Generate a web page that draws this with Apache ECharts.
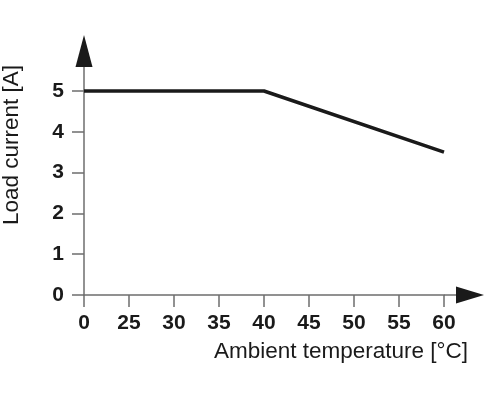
<!DOCTYPE html>
<html>
<head>
<meta charset="utf-8">
<script src="https://cdn.jsdelivr.net/npm/echarts@6/dist/echarts.min.js"></script>
<style>html,body{margin:0;padding:0;background:#fff;}#c{width:486px;height:400px;}</style>
</head>
<body>
<div id="c"></div>
<script>
// Data
var categories = ['0', '25', '30', '35', '40', '45', '50', '55', '60'];
var loadCurrent = [5, null, null, null, 5, null, null, null, 3.5];
var yTicks = [0, 1, 2, 3, 4, 5];
var xTitle = 'Ambient temperature [°C]';
var yTitle = 'Load current [A]';

var G = {left: 84, right: 42, top: 66.5, bottom: 105};
var W = 486, H = 400;
var axisColor = '#6e6e6e';
var ink = '#1a1a1a';
var fontFam = '"Liberation Sans", Arial, sans-serif';

var chart = echarts.init(document.getElementById('c'), null, {renderer: 'canvas'});
var x0 = G.left, y0 = H - G.bottom, xEnd = W - G.right, yTop = G.top;

chart.setOption({
  animation: false,
  backgroundColor: '#fff',
  grid: {left: G.left, right: G.right, top: G.top, bottom: G.bottom, containLabel: false},
  xAxis: {
    type: 'category', data: categories, boundaryGap: false,
    axisLine: {lineStyle: {color: axisColor, width: 1.5}},
    axisTick: {length: 12, lineStyle: {color: axisColor, width: 1.5}, alignWithLabel: true},
    axisLabel: {margin: 17.5, color: ink, fontSize: 21, fontWeight: 'bold', fontFamily: fontFam, interval: 0},
    splitLine: {show: false}
  },
  yAxis: {
    type: 'value', min: 0, max: 5.6,
    axisLine: {show: true, lineStyle: {color: axisColor, width: 1.5}},
    axisTick: {show: true, length: 12, customValues: yTicks, lineStyle: {color: axisColor, width: 1.5}},
    axisLabel: {margin: 20, color: ink, fontSize: 21, fontWeight: 'bold', fontFamily: fontFam, customValues: yTicks},
    splitLine: {show: false}
  },
  series: [{
    type: 'line', data: loadCurrent, connectNulls: true, symbol: 'none',
    lineStyle: {color: ink, width: 3.5}
  }],
  graphic: [
    {type: 'line', shape: {x1: xEnd, y1: y0, x2: xEnd + 14, y2: y0}, style: {stroke: axisColor, lineWidth: 1.5}},
    {type: 'polygon', shape: {points: [[x0, 35], [x0 - 8.5, yTop + 0.5], [x0 + 8.5, yTop + 0.5]]}, style: {fill: ink}, z: 10},
    {type: 'polygon', shape: {points: [[484, y0], [456, y0 - 8.5], [456, y0 + 8.5]]}, style: {fill: ink}, z: 10},
    {type: 'text', x: 468, y: 352, style: {text: xTitle, fill: ink, font: '22.5px ' + fontFam, textAlign: 'right', textVerticalAlign: 'middle'}},
    {type: 'text', x: 12, y: 145, rotation: Math.PI / 2, style: {text: yTitle, fill: ink, font: '22.5px ' + fontFam, textAlign: 'center', textVerticalAlign: 'middle'}}
  ]
});
</script>
</body>
</html>
